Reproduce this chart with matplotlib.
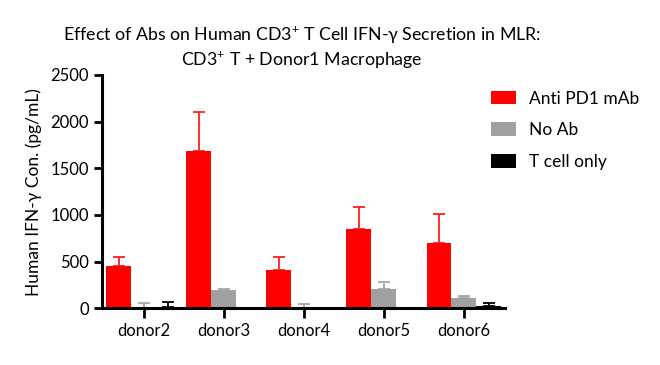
import matplotlib.pyplot as plt
import numpy as np

donors = ["donor2", "donor3", "donor4", "donor5", "donor6"]
series = ["Anti PD1 mAb", "No Ab", "T cell only"]
means = [
    [453, 1684, 410, 849, 696],
    [5, 196, 0, 203, 107],
    [17, 0, 0, 0, 28],
]
errors = [
    [93, 414, 142, 235, 310],
    [49, 14, 43, 75, 28],
    [47, 0, 0, 0, 32],
]
bar_colors = ["#ff0000", "#a0a0a0", "#000000"]
err_colors = ["#ff2020", "#a8a8a8", "#000000"]

plt.rcParams["font.family"] = ["Lato", "DejaVu Sans"]
plt.rcParams["mathtext.fontset"] = "custom"
plt.rcParams["mathtext.rm"] = "Lato"

fig = plt.figure(figsize=(6.6, 3.65), dpi=100)
ax = fig.add_axes([0.1545, 0.155, 0.61, 0.64])

x = np.arange(len(donors))
width = 0.31
for i, name in enumerate(series):
    pos = x + (i - 1) * width
    ax.bar(pos, means[i], width, color=bar_colors[i], label=name, zorder=2)
    ax.errorbar(pos, means[i], yerr=[np.zeros(len(donors)), errors[i]],
                fmt="none", ecolor=err_colors[i], elinewidth=1.3,
                capsize=4.5, capthick=1.3, zorder=1)

ax.set_xlim(-0.52, 4.51)
ax.set_ylim(0, 2500)
ax.set_yticks([0, 500, 1000, 1500, 2000, 2500])
ax.set_xticks(x)
ax.set_xticklabels(donors, fontsize=12)
ax.tick_params(axis="y", labelsize=12, width=2, length=6)
ax.tick_params(axis="x", width=2, length=7)
for side in ["top", "right"]:
    ax.spines[side].set_visible(False)
for side in ["left", "bottom"]:
    ax.spines[side].set_linewidth(2.2)

ax.set_ylabel("Human IFN-γ Con. (pg/mL)", fontsize=12.5, labelpad=6)

fig.text(0.458, 0.905, "Effect of Abs on Human CD3$^{+}$ T Cell IFN-γ Secretion in MLR:",
         ha="center", va="center", fontsize=12.8)
fig.text(0.458, 0.835, "CD3$^{+}$ T + Donor1 Macrophage",
         ha="center", va="center", fontsize=12.8)

handles, labels = ax.get_legend_handles_labels()
fig.legend(handles, labels, loc="upper left", bbox_to_anchor=(0.744, 0.752),
           frameon=False, fontsize=12.5, borderpad=0, borderaxespad=0,
           handlelength=1.45, handleheight=0.85,
           labelspacing=0.9, handletextpad=0.75)

fig.savefig("out.png", dpi=100)
